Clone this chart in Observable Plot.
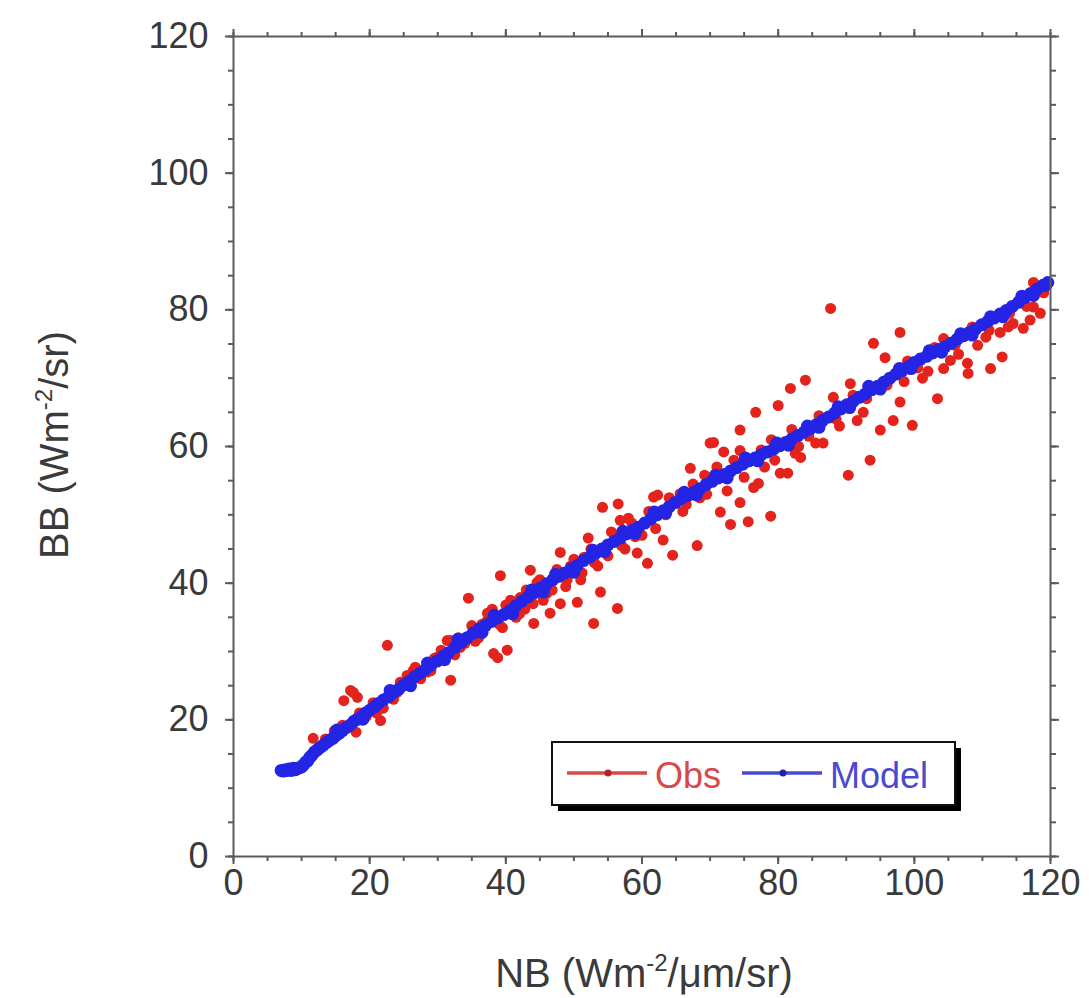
<!DOCTYPE html>
<html>
<head>
<meta charset="utf-8">
<script src="https://cdn.jsdelivr.net/npm/d3@7"></script>
<script src="https://cdn.jsdelivr.net/npm/@observablehq/plot@0.6"></script>
<style>
  html, body { margin: 0; padding: 0; background: #fff; }
  #chart svg { display: block; }
</style>
</head>
<body>
<div id="chart"></div>
<script>
// ---- Model series (blue) ----
const modelX = [7.0,7.3,7.6,7.9,8.2,8.5,8.8,9.1,9.4,9.7,10.0,10.3,10.6,10.9,11.2,11.5,11.9,12.3,12.8,13.2,13.7,14.1,14.6,15.0,15.5,16.0,16.6,17.1,17.7,18.2,18.8,19.4,20.0,20.7,21.3,22.0,22.8,23.5,24.3,25.0,25.8,26.6,27.4,28.2,29.0,29.9,30.8,31.6,32.5,33.4,34.3,35.2,36.1,37.0,37.9,38.8,39.7,40.6,41.5,42.4,43.3,44.2,45.1,46.0,46.9,47.8,48.7,49.6,50.5,51.4,52.3,53.2,54.1,55.0,55.9,56.8,57.7,58.6,59.5,60.4,61.3,62.2,63.1,64.0,64.9,65.8,66.7,67.6,68.5,69.4,70.3,71.2,72.1,73.0,73.9,74.8,75.7,76.6,77.5,78.4,79.3,80.2,81.1,82.0,82.9,83.8,84.7,85.6,86.5,87.4,88.3,89.2,90.1,91.0,91.9,92.8,93.7,94.6,95.5,96.4,97.3,98.2,99.1,100.0,100.9,101.8,102.7,103.6,104.5,105.4,106.3,107.2,108.1,109.0,109.9,110.8,111.7,112.6,113.5,114.4,115.3,116.2,117.1,118.0,118.9,119.6,
  15.2,19.0,23.0,26.0,28.5,31.0,33.0,36.5,38.3,41.0,43.8,45.5,47.3,50.0,52.8,54.5,57.2,59.0,61.8,63.5,66.2,68.0,70.8,72.5,75.2,77.0,79.8,81.5,84.3,86.0,88.8,90.5,93.3,95.0,97.8,99.5,102.2,104.0,106.8,108.5,111.2,113.0,115.8,117.5,119.3];
const modelY = [12.6,12.5,12.7,12.6,12.8,12.6,12.9,12.7,12.9,13.0,13.1,13.4,13.8,14.0,14.5,14.8,15.3,15.6,16.0,16.3,16.7,17.0,17.3,17.7,18.0,18.4,18.9,19.2,19.8,20.1,20.5,21.0,21.4,21.9,22.4,22.9,23.4,24.0,24.5,25.1,25.6,26.3,26.8,27.4,28.0,28.6,29.3,29.8,30.6,31.3,32.0,32.7,33.3,33.8,34.4,34.9,35.4,36.0,36.7,37.4,38.0,38.6,39.3,39.9,40.5,41.0,41.5,42.1,42.6,43.3,43.8,44.4,45.0,45.6,46.1,46.6,47.2,47.7,48.2,48.8,49.4,50.0,50.6,51.2,51.8,52.4,52.8,53.3,53.8,54.4,54.9,55.4,55.9,56.4,56.9,57.4,57.9,58.3,58.8,59.2,59.6,60.1,60.6,61.1,61.6,62.1,62.6,63.2,63.8,64.3,64.9,65.5,66.1,66.6,67.2,67.7,68.3,68.8,69.4,70.0,70.6,71.1,71.7,72.3,72.8,73.2,73.7,74.2,74.6,75.1,75.7,76.2,76.7,77.2,77.8,78.3,78.8,79.4,79.9,80.5,81.1,81.8,82.4,83.0,83.6,84.0,
  18.5,20.1,24.3,25.0,28.3,28.8,31.8,32.8,35.3,35.5,39.0,38.7,41.3,41.6,44.8,44.6,47.6,47.3,50.4,50.3,53.3,52.9,55.8,55.4,58.3,57.9,60.5,60.2,63.0,62.8,65.8,65.7,68.8,68.4,71.4,71.4,74.0,73.8,76.5,76.3,79.0,79.0,82.0,82.1,83.6];

// ---- Observed series (red) ----
const obsX = [11.7,12.5,13.5,14.8,16.0,16.2,17.2,18.2,17.6,18.5,19.5,20.5,21.6,21.0,22.6,23.5,24.5,25.5,26.4,26.7,27.5,28.5,29.5,30.5,31.4,31.9,31.9,32.5,33.3,34.0,34.5,35.0,36.0,37.3,37.3,38.2,38.8,39.2,39.5,40.2,40.7,41.0,41.5,42.1,42.8,43.6,44.1,44.6,45.5,46.5,46.0,47.2,48.0,48.0,48.8,49.5,50.5,51.0,51.5,52.1,52.9,53.5,53.9,54.2,55.0,55.5,56.4,56.5,56.8,57.5,58.5,59.3,60.0,60.8,61.7,62.3,63.1,63.5,64.5,65.6,66.0,67.1,68.1,68.5,69.2,70.0,70.5,71.5,72.0,72.5,73.0,74.4,74.4,74.4,75.0,75.6,76.4,76.7,77.1,78.0,78.9,79.5,80.0,80.3,81.4,81.8,82.5,83.3,84.0,84.5,85.5,86.6,87.7,88.1,89.0,90.3,90.6,91.6,92.5,93.5,94.0,95.0,95.7,96.9,97.9,97.9,98.5,99.7,101.2,102.0,103.4,104.3,104.3,105.3,106.5,107.8,107.9,109.3,110.5,111.2,112.6,112.9,113.8,114.5,116.0,117.0,117.5,117.5,118.5,
  36.5,38.0,39.0,40.0,42.0,43.0,44.0,45.0,46.8,47.5,49.0,50.0,51.2,52.5,53.0,56.0,57.0,58.0,59.0,61.0,62.0,64.0,66.5,67.5,69.5,71.0,73.5,77.5,79.0,82.0,83.0,86.0,88.5,91.0,93.0,96.0,99.0,100.5,103.0,106.0,108.5,111.0,114.0,116.5,119.0,18.0,22.0,24.0,27.0,29.0,30.0,33.0,35.5];
const obsY = [17.3,16.0,17.2,18.4,19.2,22.8,24.3,23.3,24.0,21.0,20.5,22.5,19.9,21.0,30.9,23.0,25.5,26.5,27.2,27.7,26.0,27.0,29.0,30.2,31.6,25.8,31.6,29.5,30.6,31.2,37.8,33.8,32.0,34.6,35.6,29.7,29.1,41.1,33.5,30.2,37.5,36.5,35.0,37.9,36.2,41.9,34.1,40.1,37.5,35.6,38.5,40.8,37.0,44.5,39.5,42.5,37.2,40.5,43.8,46.6,34.1,42.5,38.7,51.1,44.0,47.5,36.3,51.6,49.2,45.0,48.8,44.4,47.0,42.9,52.6,52.9,46.3,50.0,44.1,53.1,50.5,56.8,45.5,52.5,55.8,60.5,60.6,50.4,59.2,53.5,48.6,62.4,59.4,51.8,55.5,49.0,54.0,65.0,54.6,57.0,49.8,58.0,66.0,56.1,56.1,68.5,59.0,58.4,69.7,61.5,60.5,60.5,80.2,67.2,63.0,55.8,69.2,63.8,65.0,58.0,75.1,62.4,73.0,63.8,76.7,66.5,69.5,63.1,70.0,71.0,67.0,75.8,71.4,72.6,73.5,72.2,70.7,74.8,76.0,71.4,76.7,73.1,77.5,78.0,77.3,78.5,80.4,84.0,79.5,
  34.0,36.2,34.0,36.8,35.5,39.0,37.0,40.5,39.0,42.0,40.5,43.5,41.5,45.0,43.0,47.0,45.5,49.5,46.8,50.5,48.0,52.5,51.5,54.5,53.0,57.0,58.0,59.5,61.0,62.5,60.0,64.5,64.0,67.5,67.0,69.0,72.5,71.5,74.5,74.8,77.5,77.0,79.5,80.5,82.5,18.2,21.7,24.0,26.4,27.2,29.2,32.0,31.5];

// ---- Axis ticks ----
const majorTicks = [0, 20, 40, 60, 80, 100, 120];
const minorTicks = [0, 5, 10, 15, 20, 25, 30, 35, 40, 45, 50, 55, 60, 65, 70, 75, 80, 85, 90, 95, 100, 105, 110, 115, 120];

const obs = obsX.map((x, i) => ({x, y: obsY[i]}));
const model = modelX.map((x, i) => ({x, y: modelY[i]}));

const RED = "#e3231c";
const BLUE = "#2424e4";
const AX = "#5a5a5a";
const TXT = "#3a3a3a";
const blank = () => "";

const chart = Plot.plot({
  width: 1089,
  height: 998,
  marginLeft: 233,
  marginRight: 39,
  marginTop: 36,
  marginBottom: 142,
  x: {domain: [0, 120]},
  y: {domain: [0, 120]},
  style: {fontFamily: "'Liberation Sans', Arial, Helvetica, sans-serif", fontSize: "36px", background: "#fff"},
  marks: [
    Plot.dot(obs, {x: "x", y: "y", r: 5.5, fill: RED, stroke: "none"}),
    Plot.dot(model, {x: "x", y: "y", r: 6.5, fill: BLUE, stroke: "none"}),
    Plot.frame({stroke: AX, strokeWidth: 2}),
    // bottom
    Plot.axisX(minorTicks, {anchor: "bottom", tickSize: 5, tickFormat: blank, color: AX, strokeWidth: 2, label: null}),
    Plot.axisX(majorTicks, {anchor: "bottom", tickSize: 8, tickPadding: 5, fontSize: 36, color: TXT, stroke: AX, strokeWidth: 2, label: null}),
    // top
    Plot.axisX(minorTicks, {anchor: "top", tickSize: 5, tickFormat: blank, color: AX, strokeWidth: 2, label: null}),
    Plot.axisX(majorTicks, {anchor: "top", tickSize: 8, tickFormat: blank, color: AX, strokeWidth: 2, label: null}),
    // left
    Plot.axisY(minorTicks, {anchor: "left", tickSize: 5, tickFormat: blank, color: AX, strokeWidth: 2, label: null}),
    Plot.axisY(majorTicks, {anchor: "left", tickSize: 8, tickPadding: 17, fontSize: 36, color: TXT, stroke: AX, strokeWidth: 2, label: null}),
    // right
    Plot.axisY(minorTicks, {anchor: "right", tickSize: 5, tickFormat: blank, color: AX, strokeWidth: 2, label: null}),
    Plot.axisY(majorTicks, {anchor: "right", tickSize: 8, tickFormat: blank, color: AX, strokeWidth: 2, label: null})
  ]
});

document.getElementById("chart").appendChild(chart);

const svg = d3.select(chart);
const font = "'Liberation Sans', Arial, Helvetica, sans-serif";

// X axis label
const xl = svg.append("text")
  .attr("x", 644).attr("y", 987)
  .attr("text-anchor", "middle")
  .attr("font-family", font).attr("font-size", 40).attr("fill", TXT);
xl.append("tspan").text("NB (Wm");
xl.append("tspan").attr("dy", -16).attr("font-size", 24).text("-2");
xl.append("tspan").attr("dy", 16).text("/\u03bcm/sr)");

// Y axis label
const yl = svg.append("text")
  .attr("transform", "translate(68,445) rotate(-90)")
  .attr("text-anchor", "middle")
  .attr("font-family", font).attr("font-size", 40).attr("fill", TXT);
yl.append("tspan").text("BB (Wm");
yl.append("tspan").attr("dy", -16).attr("font-size", 24).text("-2");
yl.append("tspan").attr("dy", 16).text("/sr)");

// Legend
const lg = svg.append("g").attr("text-anchor", "start");
lg.append("rect").attr("x", 558).attr("y", 748).attr("width", 403).attr("height", 63).attr("fill", "#000");
lg.append("rect").attr("x", 552).attr("y", 742).attr("width", 403).attr("height", 63)
  .attr("fill", "#fff").attr("stroke", "#111").attr("stroke-width", 2);
const items = [
  {label: "Obs", color: "#b82020", line: "#d84a4a", lx: 567, tx: 655},
  {label: "Model", color: "#2020b0", line: "#4a4ad0", lx: 742, tx: 830}
];
items.forEach(it => {
  lg.append("line").attr("x1", it.lx).attr("x2", it.lx + 80).attr("y1", 773).attr("y2", 773)
    .attr("stroke", it.line).attr("stroke-width", 3.5);
  lg.append("circle").attr("cx", it.lx + 41).attr("cy", 773).attr("r", 3.5).attr("fill", it.color);
  lg.append("text").attr("x", it.tx).attr("y", 788).attr("text-anchor", "start")
    .attr("font-family", font).attr("font-size", 36).attr("fill", it.line).text(it.label);
});
</script>
</body>
</html>
